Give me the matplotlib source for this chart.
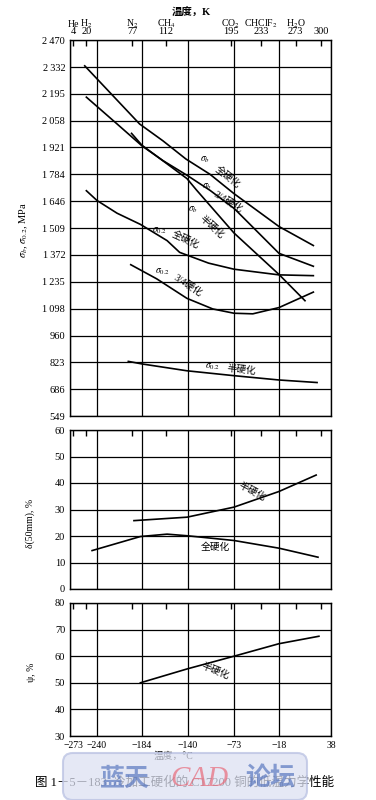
import numpy as np
import matplotlib
matplotlib.use('Agg')
import matplotlib.pyplot as plt
from matplotlib.patches import FancyBboxPatch
from matplotlib.transforms import ScaledTranslation

plt.rcParams['font.family'] = ['Liberation Serif', 'Noto Sans CJK SC', 'DejaVu Sans']
plt.rcParams['mathtext.fontset'] = 'stix'

# ---------------- data ----------------
# Celsius tick labels of the (unevenly spaced) temperature axis and their positions
C_TICKS = [-273, -240, -184, -140, -73, -18, 38]
C_POS = [0, 27, 72, 118, 164, 209, 261]

# Kelvin reference temperatures on the top axis
K_TICKS = [4, 20, 77, 112, 195, 233, 273, 300]
K_NAMES = ['He', r'H$_2$', r'N$_2$', r'CH$_4$', r'CO$_2$', r'CHClF$_2$', r'H$_2$O', '']

S_TICKS = [549, 686, 823, 960, 1098, 1235, 1372, 1509, 1646, 1784, 1921, 2058, 2195, 2332, 2470]
D_TICKS = [0, 10, 20, 30, 40, 50, 60]
P_TICKS = [30, 40, 50, 60, 70, 80]

# tensile strength sigma_b (MPa)
sb_full_T = [-255, -187, -164, -142, -108, -73, -18, 19]
sb_full = [2338, 2041, 1955, 1862, 1784, 1685, 1517, 1420]
sb_34_T = [-253, -215, -184, -164, -141, -108, -73, -18, 19]
sb_34 = [2178, 2041, 1929, 1854, 1779, 1702, 1610, 1380, 1314]
sb_half_T = [-197, -184, -141, -128, -73, -18, 10]
sb_half = [1993, 1932, 1762, 1705, 1484, 1272, 1138]

# yield strength sigma_0.2 (MPa)
s02_full_T = [-253, -240, -215, -186, -160, -148, -110, -73, -18, 19]
s02_full = [1700, 1650, 1585, 1528, 1445, 1385, 1330, 1299, 1270, 1266]
s02_34_T = [-198, -170, -141, -104, -73, -50, -18, 19]
s02_34 = [1322, 1250, 1150, 1096, 1074, 1071, 1103, 1182]
s02_half_T = [-201, -184, -141, -73, -18, 23]
s02_half = [828, 815, 780, 755, 733, 720]

# elongation delta(50mm) (%)
d_half_T = [-194, -141, -73, -18, 22]
d_half = [25.8, 27.1, 30.9, 36.8, 43.0]
d_full_T = [-246, -186, -160, -141, -73, -18, 24]
d_full = [14.5, 19.8, 20.7, 20.1, 18.3, 15.4, 12.0]

# reduction of area psi (%)
p_half_T = [-186, -141, -73, -18, 25]
p_half = [50.0, 55.2, 60.0, 64.7, 67.5]


def fwd(x):
    return np.interp(x, C_TICKS, C_POS)


def inv(p):
    return np.interp(p, C_POS, C_TICKS)


def fwd_k(k):
    return np.interp(np.asarray(k) - 273.0, C_TICKS, C_POS)


def inv_k(p):
    return np.interp(p, C_POS, C_TICKS) + 273.0


W, H = 376, 800
fig = plt.figure(figsize=(W / 100, H / 100), dpi=100)

L, R = 70, 331
panels = [(40, 416), (430, 589), (603, 736)]
axes = []
for (top, bot) in panels:
    ax = fig.add_axes([L / W, 1 - bot / H, (R - L) / W, (bot - top) / H])
    ax.set_xscale('function', functions=(fwd, inv))
    ax.set_xlim(-273, 38)
    ax.set_xticks(C_TICKS)
    ax.grid(True, color='black', lw=0.9)
    ax.set_axisbelow(True)
    ax.tick_params(length=0, labelsize=7.5, pad=3.5)
    ax.tick_params(axis='x', labelsize=7)
    for s in ax.spines.values():
        s.set_linewidth(1.0)
    axes.append(ax)
    # Kelvin ticks on the top edge
    axk = fig.add_axes(ax.get_position(), frameon=False)
    axk.set_xscale('function', functions=(fwd_k, inv_k))
    axk.set_xlim(0, 311)
    axk.set_yticks([])
    axk.xaxis.tick_top()
    axk.set_xticks(K_TICKS)
    axk.tick_params(axis='x', direction='in', length=4, width=1, pad=3, labelsize=7.5)
    if top == 40:
        axk.set_xticklabels([str(k) for k in K_TICKS])
        for k, nm in zip(K_TICKS, K_NAMES):
            axk.text(k, 1.035, nm, transform=axk.get_xaxis_transform(),
                     ha='center', va='baseline', fontsize=7)
    else:
        axk.set_xticklabels([])
    axk.patch.set_visible(False)

ax1, ax2, ax3 = axes
lw = 1.2

# ---- top panel ----
ax1.set_ylim(549, 2470)
ax1.set_yticks(S_TICKS)
ax1.set_yticklabels([f'{v:,}'.replace(',', '\u2009') for v in S_TICKS])
ax1.set_xticklabels([])
ax1.plot(sb_full_T, sb_full, color='black', lw=lw)
ax1.plot(sb_34_T, sb_34, color='black', lw=lw)
ax1.plot(sb_half_T, sb_half, color='black', lw=lw)
ax1.plot(s02_full_T, s02_full, color='black', lw=lw)
ax1.plot(s02_34_T, s02_34, color='black', lw=lw)
ax1.plot(s02_half_T, s02_half, color='black', lw=lw)
ax1.set_ylabel(r'$\sigma_b$, $\sigma_{0.2}$, MPa', fontsize=7.5)
ax1.yaxis.set_label_coords(-0.153, 0.495)

fs = 7
ax1.text(-115, 1857, r'$\sigma_b$', fontsize=fs, ha='center', va='center')
ax1.text(-83, 1770, '全硬化', fontsize=fs, ha='center', va='center', rotation=-38)
ax1.text(-112, 1719, r'$\sigma_b$', fontsize=fs, ha='center', va='center')
ax1.text(-82, 1642, '3/4硬化', fontsize=fs, ha='center', va='center', rotation=-31)
ax1.text(-133, 1601, r'$\sigma_b$', fontsize=fs, ha='center', va='center')
ax1.text(-106, 1515, '半硬化', fontsize=fs, ha='center', va='center', rotation=-42)
ax1.text(-167, 1495, r'$\sigma_{0.2}$', fontsize=fs, ha='center', va='center')
ax1.text(-142, 1448, '全硬化', fontsize=fs, ha='center', va='center', rotation=-25)
ax1.text(-164, 1285, r'$\sigma_{0.2}$', fontsize=fs, ha='center', va='center')
ax1.text(-140, 1213, '3/4硬化', fontsize=fs, ha='center', va='center', rotation=-33)
ax1.text(-104, 799, r'$\sigma_{0.2}$', fontsize=fs, ha='center', va='center')
ax1.text(-64, 784, '半硬化', fontsize=fs, ha='center', va='center', rotation=-6)

# ---- middle panel ----
ax2.set_ylim(0, 60)
ax2.set_yticks(D_TICKS)
ax2.set_xticklabels([])
ax2.plot(d_half_T, d_half, color='black', lw=lw)
ax2.plot(d_full_T, d_full, color='black', lw=lw)
ax2.set_ylabel('δ(50mm), %', fontsize=7)
ax2.yaxis.set_label_coords(-0.134, 0.415)
ax2.text(-51, 36.6, '半硬化', fontsize=fs, ha='center', va='center', rotation=-28)
ax2.text(-100, 15.6, '全硬化', fontsize=fs, ha='center', va='center')

# ---- bottom panel ----
ax3.set_ylim(30, 80)
ax3.set_yticks(P_TICKS)
ax3.set_xticklabels([str(c).replace('-', '\u2212') for c in C_TICKS])
first = ax3.get_xticklabels()[0]
first.set_transform(first.get_transform() + ScaledTranslation(3 / 100, 0, fig.dpi_scale_trans))
ax3.plot(p_half_T, p_half, color='black', lw=lw)
ax3.set_ylabel('ψ, %', fontsize=7)
ax3.yaxis.set_label_coords(-0.13, 0.48)
ax3.text(-100, 54.3, '半硬化', fontsize=fs, ha='center', va='center', rotation=-22)

# titles / captions
fig.text(191 / W, 1 - 13 / H, '温度，K', ha='center', va='center', fontsize=7.5, fontweight='bold')
fig.text(173 / W, 1 - 756 / H, '温度，°C', ha='center', va='center', fontsize=7, zorder=1)
fig.text(35 / W, 1 - 783 / H, '图 1－5－183  冷加工硬化的 C17200 铜的低温力学性能',
         ha='left', va='center', fontsize=9, zorder=1)

# watermark overlay
wm = fig.add_axes([63 / W, 0, 244 / W, 47 / H])
wm.set_zorder(5)
wm.axis('off')
wm.add_patch(FancyBboxPatch((0, 0), 1, 1.0, boxstyle='round,pad=0,rounding_size=0.04',
                            transform=wm.transAxes, fc='#dde1f2', ec='#b9c1e2',
                            lw=1.5, alpha=0.75, clip_on=False, mutation_aspect=5))
wm.text(0.15, 0.45, '蓝天', transform=wm.transAxes, fontsize=18, color='#5a78c0',
        alpha=0.7, ha='left', va='center', fontweight='bold')
wm.text(0.44, 0.45, 'CAD', transform=wm.transAxes, fontsize=21, color='#e86a7a',
        alpha=0.7, ha='left', va='center', fontstyle='italic')
wm.text(0.745, 0.45, '论坛', transform=wm.transAxes, fontsize=18, color='#5a78c0',
        alpha=0.7, ha='left', va='center', fontweight='bold')

fig.savefig('out.png', dpi=100)
